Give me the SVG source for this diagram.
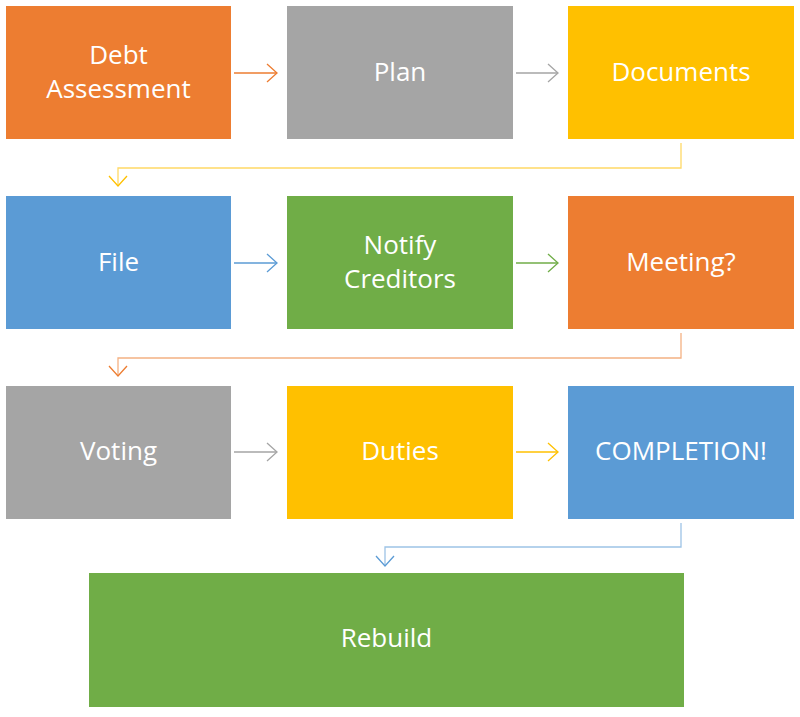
<svg xmlns="http://www.w3.org/2000/svg" width="800" height="717" viewBox="0 0 800 717">
<defs>
<style>
text{font-family:"Open Sans","Noto Sans",sans-serif;font-size:26px;fill:#fff;text-anchor:middle}
.c{fill:none;stroke-width:1.3}
.o{fill:#ED7D31}.g{fill:#A5A5A5}.y{fill:#FFC000}.b{fill:#5B9BD5}.n{fill:#70AD47}
</style>
<marker id="mo" markerWidth="12" markerHeight="20" refX="11" refY="10" orient="auto" markerUnits="userSpaceOnUse"><path d="M1,1 L11,10 L1,19" fill="none" stroke="#ED7D31" stroke-width="1.3"/></marker>
<marker id="mg" markerWidth="12" markerHeight="20" refX="11" refY="10" orient="auto" markerUnits="userSpaceOnUse"><path d="M1,1 L11,10 L1,19" fill="none" stroke="#A5A5A5" stroke-width="1.3"/></marker>
<marker id="my" markerWidth="12" markerHeight="20" refX="11" refY="10" orient="auto" markerUnits="userSpaceOnUse"><path d="M1,1 L11,10 L1,19" fill="none" stroke="#FFC000" stroke-width="1.3"/></marker>
<marker id="mb" markerWidth="12" markerHeight="20" refX="11" refY="10" orient="auto" markerUnits="userSpaceOnUse"><path d="M1,1 L11,10 L1,19" fill="none" stroke="#5B9BD5" stroke-width="1.3"/></marker>
<marker id="mn" markerWidth="12" markerHeight="20" refX="11" refY="10" orient="auto" markerUnits="userSpaceOnUse"><path d="M1,1 L11,10 L1,19" fill="none" stroke="#70AD47" stroke-width="1.3"/></marker>
</defs>
<g id="n1"><rect class="o" x="6" y="6" width="225" height="133"/><text x="118.5" y="64">Debt</text><text x="118.5" y="98">Assessment</text></g>
<g id="n2"><rect class="g" x="287" y="6" width="226" height="133"/><text x="400" y="81">Plan</text></g>
<g id="n3"><rect class="y" x="568" y="6" width="226" height="133"/><text x="681" y="81">Documents</text></g>
<g id="n4"><rect class="b" x="6" y="196" width="225" height="133"/><text x="118.5" y="271">File</text></g>
<g id="n5"><rect class="n" x="287" y="196" width="226" height="133"/><text x="400" y="254">Notify</text><text x="400" y="288">Creditors</text></g>
<g id="n6"><rect class="o" x="568" y="196" width="226" height="133"/><text x="681" y="271">Meeting?</text></g>
<g id="n7"><rect class="g" x="6" y="386" width="225" height="133"/><text x="118.5" y="460">Voting</text></g>
<g id="n8"><rect class="y" x="287" y="386" width="226" height="133"/><text x="400" y="460">Duties</text></g>
<g id="n9"><rect class="b" x="568" y="386" width="226" height="133"/><text x="681" y="460">COMPLETION!</text></g>
<g id="n10"><rect class="n" x="89" y="573" width="595" height="134"/><text x="386.5" y="647">Rebuild</text></g>
<g id="connectors">
<path class="c" d="M234,73 H277" stroke="#ED7D31" marker-end="url(#mo)"/>
<path class="c" d="M516,73 H558" stroke="#A5A5A5" marker-end="url(#mg)"/>
<path class="c" d="M681,143 V168 H118 V186" stroke="#FFD966" marker-end="url(#my)"/>
<path class="c" d="M234,263 H277" stroke="#5B9BD5" marker-end="url(#mb)"/>
<path class="c" d="M516,263 H558" stroke="#70AD47" marker-end="url(#mn)"/>
<path class="c" d="M681,333 V358 H118 V376" stroke="#F4B183" marker-end="url(#mo)"/>
<path class="c" d="M234,452 H277" stroke="#A5A5A5" marker-end="url(#mg)"/>
<path class="c" d="M516,452 H558" stroke="#FFC000" marker-end="url(#my)"/>
<path class="c" d="M681,523 V547 H385 V566" stroke="#9DC3E6" marker-end="url(#mb)"/>
</g>
</svg>
